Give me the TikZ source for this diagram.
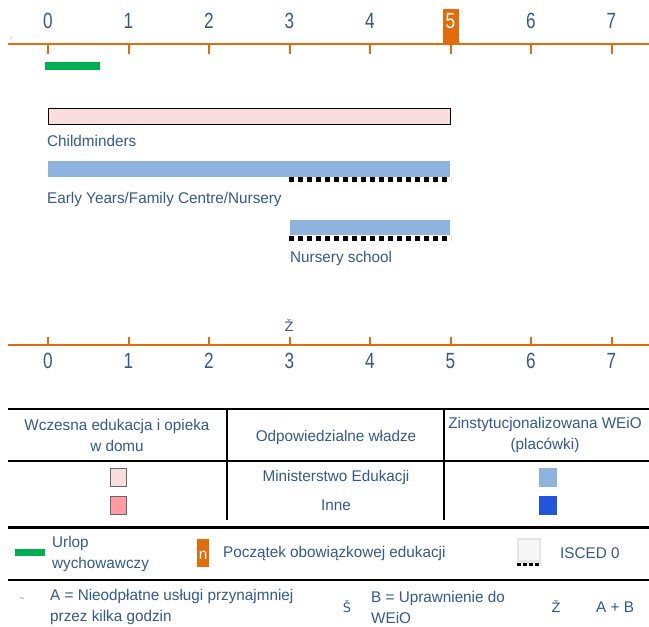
\documentclass[tikz,border=0pt]{standalone}
\usepackage{fontspec}
\setmainfont{Liberation Sans}[FakeStretch=0.985]
\newfontfamily\numfont{Liberation Sans}[FakeStretch=0.78]
\newfontfamily\symfont{DejaVu Sans}
\definecolor{txt}{HTML}{335A8E}
\definecolor{axis}{RGB}{227,108,10}
\definecolor{grn}{RGB}{0,176,80}
\definecolor{lblue}{RGB}{141,179,222}
\definecolor{dblue}{RGB}{35,85,220}
\definecolor{lpink}{RGB}{250,221,223}
\definecolor{dpink}{RGB}{255,155,162}
\tikzset{
  lbl/.style={text=txt, font=\fontsize{15.5}{21}\selectfont, inner sep=0pt},
  num/.style={text=txt, font=\numfont\fontsize{22}{24}\selectfont, inner sep=0pt},
  sym/.style={text=txt, font=\symfont\fontsize{13}{13}\selectfont, inner sep=0pt},
  axisline/.style={draw=axis, line width=2.5pt},
  tick/.style={draw=axis, line width=2pt},
  rule/.style={draw=black, line width=2pt},
  isced/.style={line width=5pt, draw=black, dash pattern=on 5pt off 4pt},
}
\begin{document}
\begin{tikzpicture}[x=1pt,y=-1pt]
\useasboundingbox (0,0) rectangle (649,627);
\fill[white] (0,0) rectangle (649,627);
% top axis
\coordinate (ta0) at (8,44);
\coordinate (ta1) at (649,44);
\draw[axisline] (ta0) -- (ta1);
\node[lbl, font=\fontsize{7}{7}\selectfont, text=lblue] (mk) at (11,40) {''};
\fill[axis] (443,9) rectangle (459,43);
\foreach \i/\x in {0/48,1/128.5,2/209,3/289.5,4/370,5/450.5,6/531,7/611.5}{
  \draw[tick] (\x,44) -- (\x,54);
}
\foreach \i/\x in {0/48,1/128.5,2/209,3/289.5,4/370,6/531,7/611.5}{
  \node[num] (t\i) at (\x,21) {\i};
}
\node[num, text=white] (t5) at (450.5,21) {5};
% green bar
\fill[grn] (45,62) rectangle (100,70);
% childminders
\draw[fill=lpink, line width=1pt] (48.5,108.5) rectangle (450.5,124);
\node[lbl, anchor=west] (cm) at (47,141) {Childminders};
% early years
\fill[lblue] (48,161) rectangle (450,177);
\fill[white] (289,177) rectangle (451,182);
\draw[isced] (289,179.5) -- (451,179.5);
\node[lbl, anchor=west] (ey) at (47,199) {Early Years/Family Centre/Nursery};
% nursery school
\fill[lblue] (290,220) rectangle (450,235);
\draw[isced] (289,238.5) -- (451,238.5);
\node[lbl, anchor=west] (ns) at (290,258) {Nursery school};
% Z mark
\node[sym] (zz) at (289,325) {Ž};
% bottom axis
\coordinate (ba0) at (8,345);
\coordinate (ba1) at (649,345);
\draw[axisline] (ba0) -- (ba1);
\foreach \i/\x in {0/48,1/128.5,2/209,3/289.5,4/370,5/450.5,6/531,7/611.5}{
  \draw[tick] (\x,337) -- (\x,345);
  \node[num] (b\i) at (\x,361) {\i};
}
% table
\draw[rule] (8,409) -- (649,409);
\draw[rule] (8,461) -- (649,461);
\draw[line width=1.5pt] (227,409) -- (227,520);
\draw[line width=1.5pt] (444,409) -- (444,520);
\draw[line width=3pt] (8,527) -- (649,527);
\draw[rule] (8,580) -- (649,580);
\node[lbl, align=center] (h1) at (117,435) {Wczesna edukacja i opieka\\w domu};
\node[lbl] (h2) at (336,437) {Odpowiedzialne władze};
\node[lbl, align=center] (h3) at (545,435) {Zinstytucjonalizowana WEiO\\(placówki)};
\draw[fill=lpink, draw=black!60, line width=1pt] (110,468) rectangle (126,486);
\draw[fill=dpink, draw=black!60, line width=1pt] (110,496) rectangle (126,514);
\fill[lblue] (539,468) rectangle (557,487);
\fill[dblue] (539,496) rectangle (557,515);
\node[lbl] (me) at (336,477) {Ministerstwo Edukacji};
\node[lbl] (in) at (336,505) {Inne};
% legend
\fill[grn] (15,549) rectangle (45,556);
\node[lbl, anchor=west, align=left] (ur) at (52,554) {Urlop\\wychowawczy};
\fill[axis] (197,539) rectangle (209,567);
\node[lbl, text=white] (nn) at (203,555) {n};
\node[lbl, anchor=west] (po) at (223,553) {Początek obowiązkowej edukacji};
\fill[black!10] (517,538) rectangle (541,564);
\fill[black!3] (519,540) rectangle (539,560);
\draw[line width=3pt, draw=black, dash pattern=on 4pt off 2pt] (517,564) -- (541,564);
\node[lbl, anchor=west] (is) at (560,553) {ISCED 0};
% bottom row
\node[lbl, text=black!50, font=\fontsize{9}{9}\selectfont] (tl) at (22,600) {\textasciitilde};
\node[lbl, anchor=west, align=left] (aa) at (50,607) {A = Nieodpłatne usługi przynajmniej\\przez kilka godzin};
\node[sym] (ss) at (347,607) {Š};
\node[lbl, anchor=west, align=left] (bb) at (371,607) {B = Uprawnienie do\\WEiO};
\node[sym] (z2) at (556,606) {Ž};
\node[lbl, anchor=west] (ab) at (596,607) {A + B};
\end{tikzpicture}
\end{document}
